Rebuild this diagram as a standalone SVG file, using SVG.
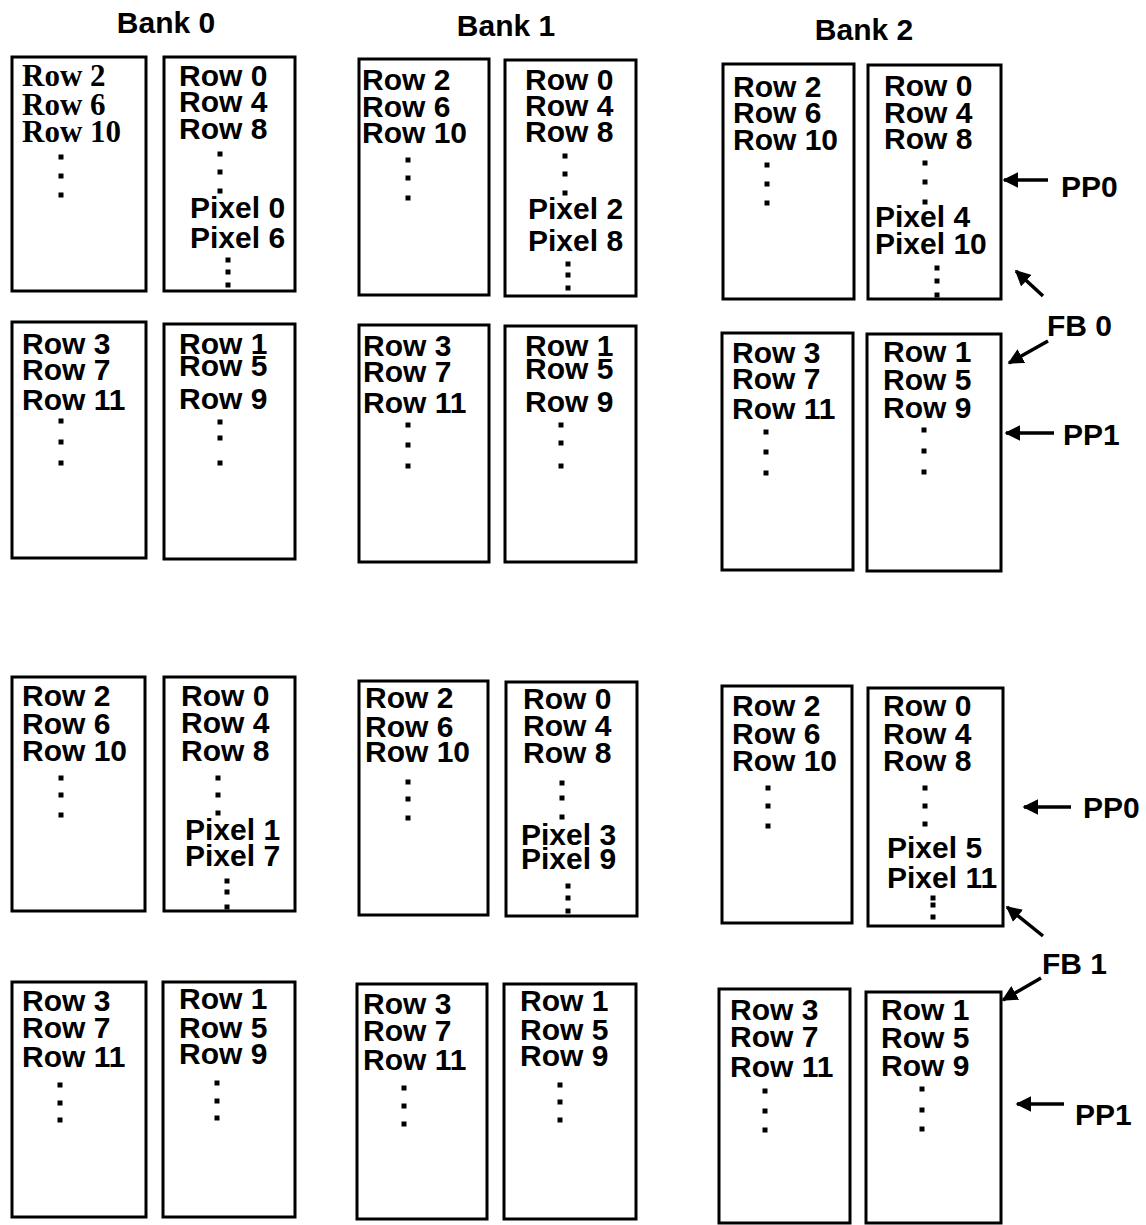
<svg xmlns="http://www.w3.org/2000/svg" xmlns:xlink="http://www.w3.org/1999/xlink" width="1146" height="1225" viewBox="0 0 1146 1225">
<style>
.bg{fill:#fff}
.box{fill:#fff;stroke:#000;stroke-width:3}
.t{font-family:"Liberation Sans",Arial,sans-serif;font-weight:bold;font-size:30px;fill:#000}
.s{font-family:"Liberation Serif","Times New Roman",serif;font-weight:bold;font-size:31px;fill:#000}
.h{font-family:"Liberation Sans",Arial,sans-serif;font-weight:bold;font-size:30px;fill:#000}
.c{stroke:#000;stroke-width:3.5;fill:none}
</style>
<defs>
<rect id="dot" x="-2.5" y="-2.5" width="5" height="5"/>
<marker id="ah" viewBox="0 0 10 10" refX="9" refY="5" markerWidth="4.5" markerHeight="4.5" orient="auto" markerUnits="strokeWidth">
<path d="M0,0 L10,5 L0,10 z" fill="#000"/>
</marker>
</defs>
<rect class="bg" x="0" y="0" width="1146" height="1225"/>

<g id="titles">
<text class="h" x="166" y="33" text-anchor="middle">Bank 0</text>
<text class="h" x="506" y="36" text-anchor="middle">Bank 1</text>
<text class="h" x="864" y="40" text-anchor="middle">Bank 2</text>
</g>

<!-- Top group, upper row -->
<g id="t-b0-a">
<rect class="box" x="12" y="57" width="134" height="234"/>
<text class="s" x="22" y="86">Row 2</text>
<text class="s" x="22" y="115">Row 6</text>
<text class="s" x="22" y="142">Row 10</text>
<use xlink:href="#dot" x="61" y="157"/><use xlink:href="#dot" x="61" y="176"/><use xlink:href="#dot" x="61" y="195"/>
</g>
<g id="t-b0-b">
<rect class="box" x="164" y="57" width="131" height="234"/>
<text class="t" x="179" y="86">Row 0</text>
<text class="t" x="179" y="112">Row 4</text>
<text class="t" x="179" y="139">Row 8</text>
<use xlink:href="#dot" x="220" y="154"/><use xlink:href="#dot" x="220" y="172"/><use xlink:href="#dot" x="220" y="191"/>
<text class="t" x="190" y="218">Pixel 0</text>
<text class="t" x="190" y="248">Pixel 6</text>
<use xlink:href="#dot" x="228" y="260"/><use xlink:href="#dot" x="228" y="272"/><use xlink:href="#dot" x="228" y="285"/>
</g>
<g id="t-b1-a">
<rect class="box" x="359" y="59" width="130" height="236"/>
<text class="t" x="362" y="90">Row 2</text>
<text class="t" x="362" y="117">Row 6</text>
<text class="t" x="362" y="143">Row 10</text>
<use xlink:href="#dot" x="408" y="160"/><use xlink:href="#dot" x="408" y="178"/><use xlink:href="#dot" x="408" y="198"/>
</g>
<g id="t-b1-b">
<rect class="box" x="505" y="60" width="131" height="236"/>
<text class="t" x="525" y="90">Row 0</text>
<text class="t" x="525" y="116">Row 4</text>
<text class="t" x="525" y="142">Row 8</text>
<use xlink:href="#dot" x="565" y="156"/><use xlink:href="#dot" x="565" y="174"/><use xlink:href="#dot" x="565" y="193"/>
<text class="t" x="528" y="219">Pixel 2</text>
<text class="t" x="528" y="251">Pixel 8</text>
<use xlink:href="#dot" x="568" y="264"/><use xlink:href="#dot" x="568" y="275"/><use xlink:href="#dot" x="568" y="288"/>
</g>
<g id="t-b2-a">
<rect class="box" x="723" y="64" width="131" height="235"/>
<text class="t" x="733" y="97">Row 2</text>
<text class="t" x="733" y="123">Row 6</text>
<text class="t" x="733" y="150">Row 10</text>
<use xlink:href="#dot" x="767" y="165"/><use xlink:href="#dot" x="767" y="184"/><use xlink:href="#dot" x="767" y="203"/>
</g>
<g id="t-b2-b">
<rect class="box" x="868" y="65" width="133" height="234"/>
<text class="t" x="884" y="96">Row 0</text>
<text class="t" x="884" y="123">Row 4</text>
<text class="t" x="884" y="149">Row 8</text>
<use xlink:href="#dot" x="925" y="163"/><use xlink:href="#dot" x="925" y="182"/><use xlink:href="#dot" x="925" y="202"/>
<text class="t" x="875" y="227">Pixel 4</text>
<text class="t" x="875" y="254">Pixel 10</text>
<use xlink:href="#dot" x="937" y="268"/><use xlink:href="#dot" x="937" y="281"/><use xlink:href="#dot" x="937" y="295"/>
</g>

<!-- Top group, lower row -->
<g id="t-b0-c">
<rect class="box" x="12" y="322" width="134" height="236"/>
<text class="t" x="22" y="354">Row 3</text>
<text class="t" x="22" y="380">Row 7</text>
<text class="t" x="22" y="410">Row 11</text>
<use xlink:href="#dot" x="61" y="421"/><use xlink:href="#dot" x="61" y="442"/><use xlink:href="#dot" x="61" y="463"/>
</g>
<g id="t-b0-d">
<rect class="box" x="164" y="324" width="131" height="235"/>
<text class="t" x="179" y="354">Row 1</text>
<text class="t" x="179" y="376">Row 5</text>
<text class="t" x="179" y="409">Row 9</text>
<use xlink:href="#dot" x="220" y="422"/><use xlink:href="#dot" x="220" y="438"/><use xlink:href="#dot" x="220" y="463"/>
</g>
<g id="t-b1-c">
<rect class="box" x="359" y="325" width="130" height="237"/>
<text class="t" x="363" y="356">Row 3</text>
<text class="t" x="363" y="382">Row 7</text>
<text class="t" x="363" y="413">Row 11</text>
<use xlink:href="#dot" x="408" y="425"/><use xlink:href="#dot" x="408" y="445"/><use xlink:href="#dot" x="408" y="466"/>
</g>
<g id="t-b1-d">
<rect class="box" x="505" y="326" width="131" height="236"/>
<text class="t" x="525" y="356">Row 1</text>
<text class="t" x="525" y="379">Row 5</text>
<text class="t" x="525" y="412">Row 9</text>
<use xlink:href="#dot" x="561" y="425"/><use xlink:href="#dot" x="561" y="443"/><use xlink:href="#dot" x="561" y="466"/>
</g>
<g id="t-b2-c">
<rect class="box" x="722" y="333" width="131" height="237"/>
<text class="t" x="732" y="363">Row 3</text>
<text class="t" x="732" y="389">Row 7</text>
<text class="t" x="732" y="419">Row 11</text>
<use xlink:href="#dot" x="766" y="432"/><use xlink:href="#dot" x="766" y="452"/><use xlink:href="#dot" x="766" y="473"/>
</g>
<g id="t-b2-d">
<rect class="box" x="867" y="334" width="134" height="237"/>
<text class="t" x="883" y="362">Row 1</text>
<text class="t" x="883" y="390">Row 5</text>
<text class="t" x="883" y="418">Row 9</text>
<use xlink:href="#dot" x="924" y="430"/><use xlink:href="#dot" x="924" y="451"/><use xlink:href="#dot" x="924" y="472"/>
</g>

<!-- Bottom group, upper row -->
<g id="b-b0-a">
<rect class="box" x="12" y="677" width="133" height="234"/>
<text class="t" x="22" y="706">Row 2</text>
<text class="t" x="22" y="734">Row 6</text>
<text class="t" x="22" y="761">Row 10</text>
<use xlink:href="#dot" x="61" y="778"/><use xlink:href="#dot" x="61" y="795"/><use xlink:href="#dot" x="61" y="815"/>
</g>
<g id="b-b0-b">
<rect class="box" x="164" y="677" width="131" height="234"/>
<text class="t" x="181" y="706">Row 0</text>
<text class="t" x="181" y="733">Row 4</text>
<text class="t" x="181" y="761">Row 8</text>
<use xlink:href="#dot" x="218" y="778"/><use xlink:href="#dot" x="218" y="795"/><use xlink:href="#dot" x="218" y="813"/>
<text class="t" x="185" y="840">Pixel 1</text>
<text class="t" x="185" y="866">Pixel 7</text>
<use xlink:href="#dot" x="227" y="881"/><use xlink:href="#dot" x="227" y="892"/><use xlink:href="#dot" x="227" y="907"/>
</g>
<g id="b-b1-a">
<rect class="box" x="359" y="681" width="129" height="234"/>
<text class="t" x="365" y="708">Row 2</text>
<text class="t" x="365" y="737">Row 6</text>
<text class="t" x="365" y="762">Row 10</text>
<use xlink:href="#dot" x="408" y="782"/><use xlink:href="#dot" x="408" y="799"/><use xlink:href="#dot" x="408" y="818"/>
</g>
<g id="b-b1-b">
<rect class="box" x="506" y="682" width="131" height="234"/>
<text class="t" x="523" y="709">Row 0</text>
<text class="t" x="523" y="736">Row 4</text>
<text class="t" x="523" y="763">Row 8</text>
<use xlink:href="#dot" x="562" y="783"/><use xlink:href="#dot" x="562" y="798"/><use xlink:href="#dot" x="562" y="817"/>
<text class="t" x="521" y="845">Pixel 3</text>
<text class="t" x="521" y="869">Pixel 9</text>
<use xlink:href="#dot" x="568" y="886"/><use xlink:href="#dot" x="568" y="898"/><use xlink:href="#dot" x="568" y="911"/>
</g>
<g id="b-b2-a">
<rect class="box" x="722" y="686" width="130" height="237"/>
<text class="t" x="732" y="716">Row 2</text>
<text class="t" x="732" y="744">Row 6</text>
<text class="t" x="732" y="771">Row 10</text>
<use xlink:href="#dot" x="768" y="788"/><use xlink:href="#dot" x="768" y="806"/><use xlink:href="#dot" x="768" y="826"/>
</g>
<g id="b-b2-b">
<rect class="box" x="868" y="688" width="135" height="238"/>
<text class="t" x="883" y="716">Row 0</text>
<text class="t" x="883" y="744">Row 4</text>
<text class="t" x="883" y="771">Row 8</text>
<use xlink:href="#dot" x="925" y="788"/><use xlink:href="#dot" x="925" y="806"/><use xlink:href="#dot" x="925" y="824"/>
<text class="t" x="887" y="858">Pixel 5</text>
<text class="t" x="887" y="888">Pixel 11</text>
<use xlink:href="#dot" x="933" y="898"/><use xlink:href="#dot" x="933" y="905"/><use xlink:href="#dot" x="933" y="917"/>
</g>

<!-- Bottom group, lower row -->
<g id="b-b0-c">
<rect class="box" x="12" y="982" width="134" height="235"/>
<text class="t" x="22" y="1011">Row 3</text>
<text class="t" x="22" y="1038">Row 7</text>
<text class="t" x="22" y="1067">Row 11</text>
<use xlink:href="#dot" x="60" y="1085"/><use xlink:href="#dot" x="60" y="1103"/><use xlink:href="#dot" x="60" y="1120"/>
</g>
<g id="b-b0-d">
<rect class="box" x="163" y="982" width="132" height="235"/>
<text class="t" x="179" y="1009">Row 1</text>
<text class="t" x="179" y="1038">Row 5</text>
<text class="t" x="179" y="1064">Row 9</text>
<use xlink:href="#dot" x="217" y="1083"/><use xlink:href="#dot" x="217" y="1101"/><use xlink:href="#dot" x="217" y="1118"/>
</g>
<g id="b-b1-c">
<rect class="box" x="357" y="984" width="130" height="235"/>
<text class="t" x="363" y="1014">Row 3</text>
<text class="t" x="363" y="1041">Row 7</text>
<text class="t" x="363" y="1070">Row 11</text>
<use xlink:href="#dot" x="404" y="1088"/><use xlink:href="#dot" x="404" y="1106"/><use xlink:href="#dot" x="404" y="1124"/>
</g>
<g id="b-b1-d">
<rect class="box" x="504" y="984" width="132" height="235"/>
<text class="t" x="520" y="1011">Row 1</text>
<text class="t" x="520" y="1040">Row 5</text>
<text class="t" x="520" y="1066">Row 9</text>
<use xlink:href="#dot" x="560" y="1085"/><use xlink:href="#dot" x="560" y="1102"/><use xlink:href="#dot" x="560" y="1120"/>
</g>
<g id="b-b2-c">
<rect class="box" x="719" y="989" width="131" height="234"/>
<text class="t" x="730" y="1020">Row 3</text>
<text class="t" x="730" y="1047">Row 7</text>
<text class="t" x="730" y="1077">Row 11</text>
<use xlink:href="#dot" x="765" y="1091"/><use xlink:href="#dot" x="765" y="1111"/><use xlink:href="#dot" x="765" y="1130"/>
</g>
<g id="b-b2-d">
<rect class="box" x="866" y="992" width="135" height="231"/>
<text class="t" x="881" y="1020">Row 1</text>
<text class="t" x="881" y="1048">Row 5</text>
<text class="t" x="881" y="1076">Row 9</text>
<use xlink:href="#dot" x="922" y="1089"/><use xlink:href="#dot" x="922" y="1110"/><use xlink:href="#dot" x="922" y="1129"/>
</g>

<g id="labels">
<text class="h" x="1061" y="197">PP0</text>
<text class="h" x="1047" y="336">FB 0</text>
<text class="h" x="1063" y="445">PP1</text>
<text class="h" x="1083" y="818">PP0</text>
<text class="h" x="1042" y="974">FB 1</text>
<text class="h" x="1075" y="1125">PP1</text>
</g>

<g id="connectors">
<line class="c" x1="1048" y1="180" x2="1004" y2="180" marker-end="url(#ah)"/>
<line class="c" x1="1043" y1="296" x2="1016" y2="271" marker-end="url(#ah)"/>
<line class="c" x1="1048" y1="341" x2="1009" y2="363" marker-end="url(#ah)"/>
<line class="c" x1="1054" y1="433" x2="1006" y2="433" marker-end="url(#ah)"/>
<line class="c" x1="1071" y1="807" x2="1024" y2="807" marker-end="url(#ah)"/>
<line class="c" x1="1043" y1="936" x2="1007" y2="907" marker-end="url(#ah)"/>
<line class="c" x1="1041" y1="978" x2="1003" y2="1000" marker-end="url(#ah)"/>
<line class="c" x1="1064" y1="1104" x2="1017" y2="1104" marker-end="url(#ah)"/>
</g>
</svg>
